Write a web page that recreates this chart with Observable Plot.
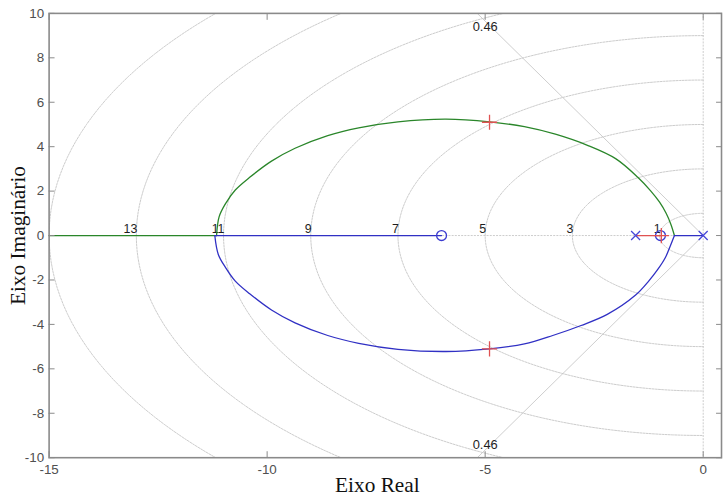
<!DOCTYPE html>
<html><head><meta charset="utf-8">
<script src="https://cdn.jsdelivr.net/npm/d3@7"></script>
<script src="https://cdn.jsdelivr.net/npm/@observablehq/plot@0.6"></script>
<style>html,body{margin:0;padding:0;background:#fff;overflow:hidden}</style>
</head><body><div id="chart"></div>
<script>
// ---- data ----
const xTicks = [-15, -10, -5, 0];
const yTicks = [-10, -8, -6, -4, -2, 0, 2, 4, 6, 8, 10];
const wnValues = [1, 3, 5, 7, 9, 11, 13, 15];
const wnLabels = [1, 3, 5, 7, 9, 11, 13];
const zetaValues = [0.46];
const polesX = [0, -1.55];
const zerosX = [-6, -0.98];
const clPolesX = [-4.9, -4.9, -0.96];
const clPolesY = [5.1, -5.1, 0];
// green branch (upper arc), from breakaway to break-in
const greenArcX = [-0.66, -0.74, -0.85, -1.0, -1.2, -1.5, -2.0, -2.64, -3.39, -4.1, -4.9, -5.9, -7.0, -7.9, -8.61, -9.36, -9.9, -10.4, -10.73, -10.95, -11.1, -11.16];
const greenArcY = [0, 0.5, 1.0, 1.5, 2.0, 2.62, 3.45, 4.05, 4.56, 4.9, 5.12, 5.24, 5.12, 4.85, 4.5, 3.93, 3.35, 2.62, 2.05, 1.45, 0.85, 0];
const greenAxisX = [-11.16, -15];
// blue branch (lower arc)
const blueArcX = [-0.66, -0.75, -0.87, -1.05, -1.25, -1.55, -2.2, -2.8, -3.45, -4.1, -4.9, -5.9, -7.0, -7.9, -8.61, -9.36, -9.9, -10.4, -10.73, -10.95, -11.12, -11.2];
const blueArcY = [0, -0.45, -1.0, -1.55, -2.05, -2.68, -3.55, -4.05, -4.5, -4.88, -5.1, -5.22, -5.12, -4.85, -4.5, -3.93, -3.35, -2.62, -2.05, -1.45, -0.85, 0];
const blueAxisAX = [0, -0.66];
const blueAxisBX = [-11.2, -6];
// red branch
const redAxisX = [-1.55, -0.97];

const label = {x: "Eixo Real", y: "Eixo Imaginário"};

// ---- build mark data ----
const pts = (xs, ys) => xs.map((x, i) => ({x, y: ys ? ys[i] : 0}));
const grid = [];
for (const wn of wnValues)
  for (let a = 90; a <= 270; a += 1.5)
    grid.push({wn, x: wn * Math.cos(a * Math.PI / 180), y: wn * Math.sin(a * Math.PI / 180)});
const rays = zetaValues.flatMap(z => [1, -1].map(s => ({z, x2: -25 * z, y2: s * 25 * Math.sqrt(1 - z * z)})));
const zetaTop = zetaValues.map(z => ({z, y: 10, x: -10 * z / Math.sqrt(1 - z * z)}));
const zetaBot = zetaValues.map(z => ({z, y: -10, x: -10 * z / Math.sqrt(1 - z * z)}));

const gridStroke = "#c6c6c6";
const blue = "#3030c4", green = "#2a862a", red = "#e05252";
const tickFont = "Liberation Sans, Arial, sans-serif";
const serif = "Liberation Serif, Times New Roman, serif";
const fmt = d => String(d);

const chart = Plot.plot({
  width: 730, height: 502,
  marginLeft: 49, marginRight: 3, marginTop: 13, marginBottom: 41,
  x: {domain: [-15, 0.42], label: null},
  y: {domain: [-10, 10], label: null},
  style: {background: "#fff", fontFamily: tickFont},
  marks: [
    Plot.line(grid, {x: "x", y: "y", z: "wn", stroke: gridStroke, strokeWidth: 0.9, strokeDasharray: "2,1.2", clip: true}),
    Plot.ruleX([0], {stroke: gridStroke, strokeWidth: 0.9, strokeDasharray: "2,1.2"}),
    Plot.ruleY([0], {x1: -15, x2: 0, stroke: gridStroke, strokeWidth: 0.9, strokeDasharray: "2,1.2"}),
    Plot.link(rays, {x1: 0, y1: 0, x2: "x2", y2: "y2", stroke: "#c8c8c8", strokeWidth: 0.9, clip: true}),
    Plot.text(wnLabels, {x: d => -d, y: 0, text: fmt, textAnchor: "end", lineAnchor: "bottom", dy: -3, dx: 1, fontSize: 12.5, fill: "#1e1e1e"}),
    Plot.text(zetaTop, {x: "x", y: "y", text: d => String(d.z), lineAnchor: "top", dy: 9, dx: 8, fontSize: 13, fill: "#1e1e1e"}),
    Plot.text(zetaBot, {x: "x", y: "y", text: d => String(d.z), lineAnchor: "bottom", dy: -9, dx: 8, fontSize: 13, fill: "#1e1e1e"}),
    // locus
    Plot.line(pts(greenAxisX), {x: "x", y: "y", stroke: green, strokeWidth: 1.3}),
    Plot.line(pts(greenArcX, greenArcY), {x: "x", y: "y", stroke: green, strokeWidth: 1.3, curve: "catmull-rom"}),
    Plot.line(pts(blueArcX, blueArcY), {x: "x", y: "y", stroke: blue, strokeWidth: 1.3, curve: "catmull-rom"}),
    Plot.line(pts(blueAxisBX), {x: "x", y: "y", stroke: blue, strokeWidth: 1.3}),
    Plot.line(pts(blueAxisAX), {x: "x", y: "y", stroke: blue, strokeWidth: 1.3}),
    Plot.line(pts(redAxisX), {x: "x", y: "y", stroke: red, strokeWidth: 1.3}),
    Plot.dot(polesX, {x: d => d, y: 0, symbol: "times", r: 4.2, stroke: "#4848d8", strokeWidth: 1.3}),
    Plot.dot(zerosX, {x: d => d, y: 0, symbol: "circle", r: 5, stroke: "#3b3bd0", fill: "none", strokeWidth: 1.3}),
    Plot.dot(clPolesX, {x: d => d, y: (d, i) => clPolesY[i], symbol: "plus", r: 5, stroke: red, strokeWidth: 1.3}),
    // axes
    Plot.frame({stroke: "#8a8a8a", strokeWidth: 1.6}),
    Plot.axisX({ticks: xTicks, anchor: "bottom", tickSize: -6, fill: "none", stroke: "#8a8a8a", label: null}),
    Plot.axisX({ticks: xTicks, anchor: "top", tickSize: -6, fill: "none", stroke: "#8a8a8a", label: null}),
    Plot.axisY({ticks: yTicks, anchor: "left", tickSize: -6, fill: "none", stroke: "#8a8a8a", label: null}),
    Plot.axisY({ticks: yTicks, anchor: "right", tickSize: -6, fill: "none", stroke: "#8a8a8a", label: null}),
    Plot.axisX({ticks: xTicks, tickFormat: fmt, anchor: "bottom", tickSize: 0, tickPadding: 7, fill: "#505050", fontSize: 13.5, label: null}),
    Plot.axisY({ticks: yTicks, tickFormat: fmt, anchor: "left", tickSize: 0, tickPadding: 5, fill: "#505050", fontSize: 13.5, label: null}),
    Plot.text([label.x], {frameAnchor: "bottom", dy: 28, dx: -8, textAnchor: "middle", lineAnchor: "middle", text: d => d, fontFamily: serif, fontSize: 21.5, fill: "#111"}),
    Plot.text([label.y], {frameAnchor: "left", dx: -31, rotate: -90, textAnchor: "middle", lineAnchor: "middle", text: d => d, fontFamily: serif, fontSize: 21.5, fill: "#111"})
  ]
});
document.getElementById("chart").appendChild(chart);
</script>
</body></html>
